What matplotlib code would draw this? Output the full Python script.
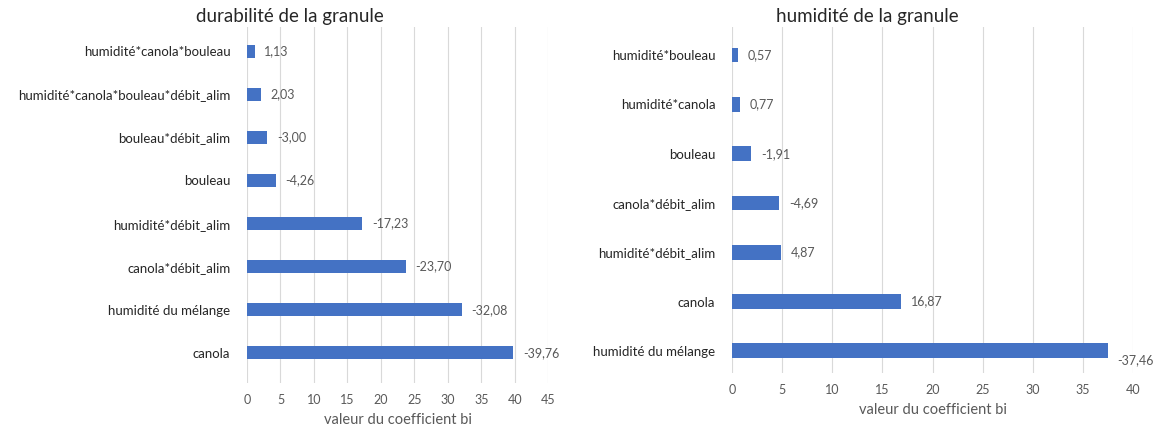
import matplotlib
matplotlib.use("Agg")
import matplotlib.pyplot as plt

plt.rcParams['font.family'] = ['Lato', 'DejaVu Sans']

# durabilité de la granule (top to bottom)
dur_labels = ["humidité*canola*bouleau", "humidité*canola*bouleau*débit_alim",
              "bouleau*débit_alim", "bouleau", "humidité*débit_alim",
              "canola*débit_alim", "humidité du mélange", "canola"]
dur_values = [1.13, 2.03, -3.00, -4.26, -17.23, -23.70, -32.08, -39.76]
dur_ticks = [0, 5, 10, 15, 20, 25, 30, 35, 40, 45]

# humidité de la granule (top to bottom)
hum_labels = ["humidité*bouleau", "humidité*canola", "bouleau", "canola*débit_alim",
              "humidité*débit_alim", "canola", "humidité du mélange"]
hum_values = [0.57, 0.77, -1.91, -4.69, 4.87, 16.87, -37.46]
hum_ticks = [0, 5, 10, 15, 20, 25, 30, 35, 40]

BLUE = "#4472C4"
GRID = "#d9d9d9"
TXT = "#595959"


def draw(ax, labels, values, ticks, title, ylim, title_x, last_dy=0):
    labels = labels[::-1]
    values = values[::-1]
    y = list(range(len(values)))
    lengths = [abs(v) for v in values]
    ax.barh(y, lengths, height=0.3, color=BLUE, zorder=3)
    for i, (yy, l, v) in enumerate(zip(y, lengths, values)):
        dy = last_dy if i == 0 else 0
        ax.annotate(f"{v:.2f}".replace(".", ","), (l, yy), xytext=(7, dy),
                    textcoords="offset points", va="center", ha="left",
                    fontsize=9, color=TXT)
    ax.set_yticks(y)
    ax.set_yticklabels(labels, fontsize=9.5, color="#262626")
    ax.set_xticks(ticks)
    ax.set_xticklabels([str(t) for t in ticks], fontsize=9, color=TXT)
    ax.set_xlim(ticks[0], ticks[-1])
    ax.set_ylim(*ylim)
    ax.tick_params(axis="both", length=0)
    ax.tick_params(axis="x", pad=8)
    ax.tick_params(axis="y", pad=12)
    ax.grid(axis="x", color=GRID, linewidth=0.8, zorder=0)
    for s in ax.spines.values():
        s.set_visible(False)
    ax.set_xlabel("valeur du coefficient bi", fontsize=10.5, color=TXT, labelpad=5)
    ax.figure.text(title_x, 0.962, title, ha="center", va="center",
                   fontsize=13.5, color="#262626")


fig = plt.figure(figsize=(11.59, 4.26), dpi=100)
ax1 = fig.add_axes([0.2131, 0.1009, 0.2601, 0.8357])
ax2 = fig.add_axes([0.6316, 0.1244, 0.3460, 0.8122])

draw(ax1, dur_labels, dur_values, dur_ticks, "durabilité de la granule",
     (-0.70, 7.56), 290 / 1159)
draw(ax2, hum_labels, hum_values, hum_ticks, "humidité de la granule",
     (-0.45, 6.57), 867 / 1159, last_dy=-7)

fig.savefig("out.png", dpi=100)
